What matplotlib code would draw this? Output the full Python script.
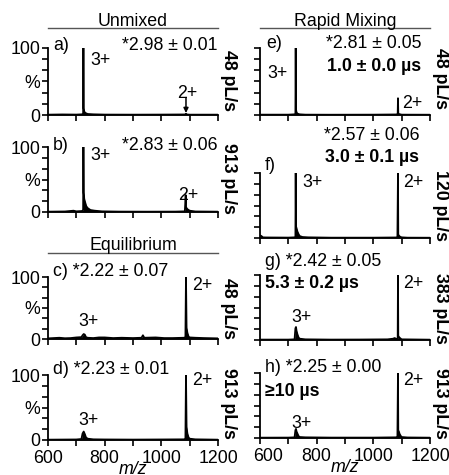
import matplotlib
matplotlib.use('Agg')
import matplotlib.pyplot as plt
import numpy as np
from matplotlib.lines import Line2D
from matplotlib.transforms import ScaledTranslation

plt.rcParams['font.family'] = ['Liberation Sans', 'DejaVu Sans']

W, H = 449, 475
FS = 12.8

# spectra: m/z and relative intensity (%)
mz_a = [600, 650, 700, 720, 724, 725, 726, 728, 732, 740, 760, 800, 900, 1000, 1085, 1087, 1089, 1100, 1200]
int_a = [0.5, 0.8, 0.6, 1.0, 2, 100, 10, 5, 3, 1.5, 1, 0.6, 0.5, 0.6, 0.8, 2, 0.8, 0.5, 0.5]

mz_b = [600, 660, 690, 700, 720, 724, 725, 726, 728, 731, 735, 740, 750, 765, 790, 850, 950, 1050,
        1083, 1086, 1087, 1089, 1093, 1100, 1120, 1200]
int_b = [0.5, 0.8, 2, 1, 1.5, 3, 100, 30, 20, 15, 9, 6, 3, 2, 1, 0.6, 0.5, 0.6,
         1, 26, 8, 6, 4, 2, 0.8, 0.5]

mz_c = [600, 620, 640, 660, 680, 700, 718, 722, 726, 730, 734, 740, 760, 780, 800, 830, 860, 900,
        930, 935, 940, 980, 1010, 1040, 1080, 1085, 1087, 1089, 1092, 1096, 1100, 1120, 1150, 1200]
int_c = [1, 1.5, 2, 1.2, 1.5, 2.5, 3, 6, 8, 7, 3, 2, 1.5, 2.5, 2.5, 1.5, 2, 1.5,
         2, 6, 2, 2.5, 1.5, 1.5, 2, 3, 100, 18, 10, 4, 2.5, 2, 1.5, 1]

mz_d = [600, 700, 718, 722, 726, 730, 734, 740, 760, 800, 900, 1000, 1080, 1085, 1087, 1089, 1092,
        1096, 1100, 1120, 1200]
int_d = [0.5, 0.8, 1.5, 10, 13, 9, 4, 2, 1, 0.8, 0.6, 0.8, 1, 2, 100, 20, 10, 4, 2, 1, 0.5]

mz_e = [600, 700, 722, 725, 726, 727, 729, 732, 740, 760, 850, 1000, 1084, 1086, 1087, 1088, 1090, 1100, 1200]
int_e = [0.5, 0.5, 1, 2, 100, 8, 4, 2, 1, 0.5, 0.4, 0.5, 0.8, 1.5, 25, 3, 1.5, 0.5, 0.4]

mz_f = [600, 605, 610, 620, 700, 722, 725, 726, 727, 729, 732, 736, 740, 750, 770, 850, 1000, 1080,
        1085, 1087, 1088, 1090, 1094, 1100, 1120, 1200]
int_f = [4, 3, 1, 0.8, 0.6, 1, 2, 100, 18, 15, 10, 6, 3, 1.5, 1, 0.5, 0.5, 0.8,
         1.5, 100, 5, 4, 2, 1, 0.5, 0.4]

mz_g = [600, 700, 722, 725, 727, 729, 732, 736, 740, 760, 850, 950, 1050, 1070, 1075, 1080, 1084,
        1086, 1087, 1088, 1090, 1094, 1100, 1200]
int_g = [0.6, 0.6, 1, 18, 20, 14, 9, 4, 2, 1, 0.6, 0.7, 1, 2, 3, 2, 1.5,
         2, 100, 6, 5, 3, 1, 0.5]

mz_h = [600, 700, 722, 725, 727, 729, 732, 736, 740, 760, 850, 1000, 1080, 1085, 1087, 1088, 1090,
        1093, 1097, 1100, 1120, 1200]
int_h = [0.5, 0.6, 1, 12, 14, 10, 7, 3, 1.5, 1, 0.6, 0.6, 1, 2, 100, 12, 10, 6, 3, 1.5, 0.8, 0.5]

x_ticks = [600, 700, 800, 900, 1000, 1100, 1200]
x_labels = ['600', '', '800', '', '1000', '', '1200']
y_ticks = [0, 100/6, 200/6, 50, 400/6, 500/6, 100]
y_labels = ['0', '', '', '%', '', '', '100']

fig = plt.figure(figsize=(W/100, H/100), dpi=100)


def fx(x):
    return x / W


def fy(y):
    return 1 - y / H


def txt(x, y, s, ha='left', va='baseline', **kw):
    fig.text(fx(x), fy(y), s, ha=ha, va=va, fontsize=FS, **kw)


def make_ax(x0, y0, y1, mz, inten, left_labels, bottom_labels):
    ax = fig.add_axes([fx(x0), fy(y1), 170/W, (y1 - y0)/H])
    ax.plot(mz, inten, color='black', lw=1.3)
    ax.fill_between(mz, 0, inten, color='black', lw=0)
    ax.set_xlim(600, 1200)
    ax.set_ylim(0, 100)
    for s in ['top', 'right']:
        ax.spines[s].set_visible(False)
    for s in ['left', 'bottom']:
        ax.spines[s].set_linewidth(1.3)
    ax.set_xticks(x_ticks)
    ax.set_yticks(y_ticks)
    ax.tick_params(direction='out', length=4.5, width=1.2, labelsize=FS, pad=1)
    ax.tick_params(axis='x', pad=2.5)
    if left_labels:
        ax.set_yticklabels(y_labels)
    else:
        ax.set_yticklabels([])
    if bottom_labels:
        ax.set_xticklabels(x_labels)
        ax.set_xlabel('m/z', fontsize=FS, style='italic', labelpad=-4)
    else:
        ax.set_xticklabels([])
    return ax


ax_a = make_ax(48, 48, 115, mz_a, int_a, True, False)
ax_b = make_ax(48, 147, 212, mz_b, int_b, True, False)
ax_c = make_ax(48, 277, 339, mz_c, int_c, True, False)
ax_d = make_ax(48, 375, 440, mz_d, int_d, True, True)
ax_e = make_ax(260, 48, 115, mz_e, int_e, False, False)
ax_f = make_ax(260, 173, 238, mz_f, int_f, False, False)
ax_g = make_ax(260, 275, 340, mz_g, int_g, False, False)
ax_h = make_ax(260, 373, 438, mz_h, int_h, False, True)

# push the right-hand "600" clear of the left-hand "1200"
lab = ax_h.get_xticklabels()[0]
lab.set_transform(lab.get_transform() + ScaledTranslation(8/100, 0, fig.dpi_scale_trans))

# arrow in a)
ax_a.annotate('', xy=(1087, 3), xytext=(1087, 26),
              arrowprops=dict(arrowstyle='-|>', color='black', lw=1.1, mutation_scale=7,
                              shrinkA=0, shrinkB=0))

# section headings
txt(133, 26, 'Unmixed', ha='center')
txt(345, 26, 'Rapid Mixing', ha='center')
txt(133, 249.5, 'Equilibrium', ha='center')
for (xa, xb, yy) in [(48, 218, 28), (260, 430, 28), (48, 218, 253)]:
    fig.add_artist(Line2D([fx(xa), fx(xb)], [fy(yy), fy(yy)], color='#555555', lw=1.0))

# left column annotations
txt(53, 50, 'a)')
txt(217, 50, '*2.98 ± 0.01', ha='right')
txt(90, 65, '3+')
txt(187, 98, '2+', ha='center')

txt(53, 150, 'b)')
txt(217, 150, '*2.83 ± 0.06', ha='right')
txt(90, 160, '3+')
txt(188, 200, '2+', ha='center')

txt(53, 276.5, 'c) *2.22 ± 0.07')
txt(192, 290, '2+')
txt(88, 326.5, '3+', ha='center')

txt(53, 374, 'd) *2.23 ± 0.01')
txt(192, 385, '2+')
txt(88, 425, '3+', ha='center')

# right column annotations
txt(266, 48.5, 'e)')
txt(422, 48.5, '*2.81 ± 0.05', ha='right')
txt(421, 70.5, '1.0 ± 0.0 µs', ha='right', fontweight='bold')
txt(288, 78, '3+', ha='right')
txt(402, 108, '2+')

txt(420, 140, '*2.57 ± 0.06', ha='right')
txt(419, 162.5, '3.0 ± 0.1 µs', ha='right', fontweight='bold')
txt(265, 170, 'f)')
txt(302, 187, '3+')
txt(403, 187, '2+')

txt(265, 266, 'g) *2.42 ± 0.05')
txt(265, 287.5, '5.3 ± 0.2 µs', fontweight='bold')
txt(403, 287.5, '2+')
txt(291, 322.5, '3+')

txt(265, 372.5, 'h) *2.25 ± 0.00')
txt(265, 395.5, '≥10 µs', fontweight='bold')
txt(403, 385, '2+')
txt(291, 428, '3+')

# flow-rate labels
for (xx, yy, s) in [(228, 80, '48 pL/s'), (228, 178, '913 pL/s'), (228, 308, '48 pL/s'),
                    (228, 403, '913 pL/s'), (440, 79, '48 pL/s'), (440, 206, '120 pL/s'),
                    (440, 308, '383 pL/s'), (440, 403, '913 pL/s')]:
    fig.text(fx(xx), fy(yy), s, rotation=-90, ha='center', va='center',
             fontsize=FS, fontweight='bold')

fig.savefig('out.png', dpi=100)
